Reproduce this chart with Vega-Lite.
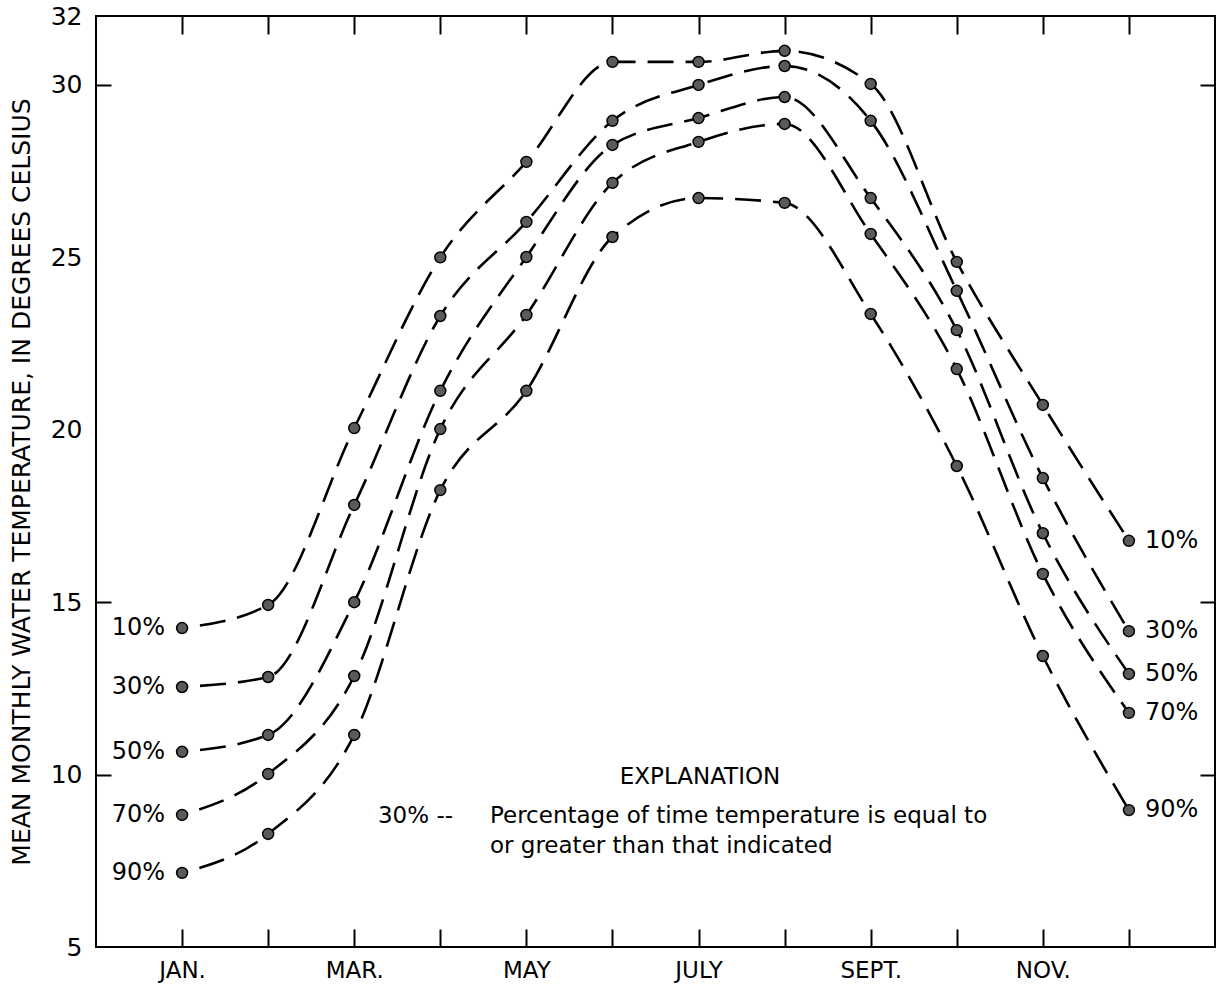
{
  "$schema": "https://vega.github.io/schema/vega-lite/v6.json",
  "width": 1119,
  "height": 931,
  "padding": {"left": 96, "top": 16, "right": 2, "bottom": 40},
  "autosize": {"type": "none"},
  "background": "white",
  "config": {
    "view": {"stroke": "black", "strokeWidth": 2},
    "font": "DejaVu Sans",
    "axis": {"grid": false, "domain": false, "tickColor": "black", "tickWidth": 2, "labelColor": "black", "labelFont": "DejaVu Sans", "titleFont": "DejaVu Sans", "titleFontWeight": "normal", "titleColor": "black"},
    "text": {"font": "DejaVu Sans", "color": "black"}
  },
  "datasets": {
    "temps": [
      {"month": 1, "pct": "10%", "temp": 14.25},
      {"month": 2, "pct": "10%", "temp": 14.92},
      {"month": 3, "pct": "10%", "temp": 20.05},
      {"month": 4, "pct": "10%", "temp": 25.0},
      {"month": 5, "pct": "10%", "temp": 27.77},
      {"month": 6, "pct": "10%", "temp": 30.67},
      {"month": 7, "pct": "10%", "temp": 30.67},
      {"month": 8, "pct": "10%", "temp": 30.99},
      {"month": 9, "pct": "10%", "temp": 30.03},
      {"month": 10, "pct": "10%", "temp": 24.87},
      {"month": 11, "pct": "10%", "temp": 20.72},
      {"month": 12, "pct": "10%", "temp": 16.78},
      {"month": 1, "pct": "30%", "temp": 12.54},
      {"month": 2, "pct": "30%", "temp": 12.83},
      {"month": 3, "pct": "30%", "temp": 17.82},
      {"month": 4, "pct": "30%", "temp": 23.3},
      {"month": 5, "pct": "30%", "temp": 26.03},
      {"month": 6, "pct": "30%", "temp": 28.96},
      {"month": 7, "pct": "30%", "temp": 30.0},
      {"month": 8, "pct": "30%", "temp": 30.55},
      {"month": 9, "pct": "30%", "temp": 28.96},
      {"month": 10, "pct": "30%", "temp": 24.03},
      {"month": 11, "pct": "30%", "temp": 18.6},
      {"month": 12, "pct": "30%", "temp": 14.16},
      {"month": 1, "pct": "50%", "temp": 10.66},
      {"month": 2, "pct": "50%", "temp": 11.15},
      {"month": 3, "pct": "50%", "temp": 15.0},
      {"month": 4, "pct": "50%", "temp": 21.13},
      {"month": 5, "pct": "50%", "temp": 25.01},
      {"month": 6, "pct": "50%", "temp": 28.26},
      {"month": 7, "pct": "50%", "temp": 29.04},
      {"month": 8, "pct": "50%", "temp": 29.65},
      {"month": 9, "pct": "50%", "temp": 26.72},
      {"month": 10, "pct": "50%", "temp": 22.89},
      {"month": 11, "pct": "50%", "temp": 17.0},
      {"month": 12, "pct": "50%", "temp": 12.92},
      {"month": 1, "pct": "70%", "temp": 8.83},
      {"month": 2, "pct": "70%", "temp": 10.02},
      {"month": 3, "pct": "70%", "temp": 12.86},
      {"month": 4, "pct": "70%", "temp": 20.02},
      {"month": 5, "pct": "70%", "temp": 23.33},
      {"month": 6, "pct": "70%", "temp": 27.16},
      {"month": 7, "pct": "70%", "temp": 28.35},
      {"month": 8, "pct": "70%", "temp": 28.87},
      {"month": 9, "pct": "70%", "temp": 25.68},
      {"month": 10, "pct": "70%", "temp": 21.76},
      {"month": 11, "pct": "70%", "temp": 15.82},
      {"month": 12, "pct": "70%", "temp": 11.79},
      {"month": 1, "pct": "90%", "temp": 7.15},
      {"month": 2, "pct": "90%", "temp": 8.28},
      {"month": 3, "pct": "90%", "temp": 11.15},
      {"month": 4, "pct": "90%", "temp": 18.25},
      {"month": 5, "pct": "90%", "temp": 21.13},
      {"month": 6, "pct": "90%", "temp": 25.59},
      {"month": 7, "pct": "90%", "temp": 26.72},
      {"month": 8, "pct": "90%", "temp": 26.58},
      {"month": 9, "pct": "90%", "temp": 23.36},
      {"month": 10, "pct": "90%", "temp": 18.95},
      {"month": 11, "pct": "90%", "temp": 13.44},
      {"month": 12, "pct": "90%", "temp": 8.97}
    ],
    "notes": [
      {"month": 3.276, "temp": 8.8, "text": "30% --"},
      {"month": 4.577, "temp": 8.8, "text": "Percentage of time temperature is equal to"},
      {"month": 4.577, "temp": 7.93, "text": "or greater than that indicated"}
    ],
    "heading": [
      {"month": 7.017, "temp": 9.93, "text": "EXPLANATION"}
    ]
  },
  "resolve": {"axis": {"x": "independent", "y": "independent"}},
  "layer": [
    {
      "data": {"name": "temps"},
      "mark": {"type": "line", "interpolate": "monotone", "color": "black", "strokeWidth": 2.6, "strokeDash": [26, 12], "strokeDashOffset": 20},
      "encoding": {
        "x": {
          "field": "month", "type": "quantitative",
          "scale": {"domain": [0, 13], "nice": false, "zero": false},
          "axis": {
            "orient": "bottom", "title": null, "values": [1, 2, 3, 4, 5, 6, 7, 8, 9, 10, 11, 12],
            "tickSize": -18, "labelPadding": 30, "labelFontSize": 23,
            "labelExpr": "datum.value == 1 ? 'JAN.' : datum.value == 3 ? 'MAR.' : datum.value == 5 ? 'MAY' : datum.value == 7 ? 'JULY' : datum.value == 9 ? 'SEPT.' : datum.value == 11 ? 'NOV.' : ''"
          }
        },
        "y": {
          "field": "temp", "type": "quantitative",
          "scale": {"domain": [5, 32], "nice": false, "zero": false},
          "axis": {
            "orient": "left", "values": [5, 10, 15, 20, 25, 30, 32],
            "tickSize": -15, "labelPadding": 29, "labelFontSize": 25,
            "tickOpacity": {"expr": "datum.value == 10 || datum.value == 15 || datum.value == 30 ? 1 : 0"},
            "title": "MEAN MONTHLY WATER TEMPERATURE, IN DEGREES CELSIUS",
            "titleFontSize": 25, "titlePadding": 16
          }
        },
        "detail": {"field": "pct"}
      }
    },
    {
      "data": {"name": "temps"},
      "mark": {"type": "point", "shape": "circle", "filled": true, "size": 120, "fill": "#5a5a5a", "stroke": "black", "strokeWidth": 1.5, "opacity": 1},
      "encoding": {
        "x": {
          "field": "month", "type": "quantitative",
          "scale": {"domain": [0, 13], "nice": false, "zero": false},
          "axis": {"orient": "top", "title": null, "labels": false, "values": [1, 2, 3, 4, 5, 6, 7, 8, 9, 10, 11, 12], "tickSize": -18}
        },
        "y": {
          "field": "temp", "type": "quantitative",
          "scale": {"domain": [5, 32], "nice": false, "zero": false},
          "axis": {"orient": "right", "title": null, "labels": false, "values": [10, 15, 30], "tickSize": -15}
        }
      }
    },
    {
      "data": {"name": "temps"},
      "transform": [{"filter": "datum.month == 1"}],
      "mark": {"type": "text", "align": "right", "baseline": "middle", "dx": -17, "fontSize": 24},
      "encoding": {
        "x": {"field": "month", "type": "quantitative", "scale": {"domain": [0, 13], "nice": false, "zero": false}, "axis": null},
        "y": {"field": "temp", "type": "quantitative", "scale": {"domain": [5, 32], "nice": false, "zero": false}, "axis": null},
        "text": {"field": "pct"}
      }
    },
    {
      "data": {"name": "temps"},
      "transform": [{"filter": "datum.month == 12"}],
      "mark": {"type": "text", "align": "left", "baseline": "middle", "dx": 16, "fontSize": 24},
      "encoding": {
        "x": {"field": "month", "type": "quantitative", "scale": {"domain": [0, 13], "nice": false, "zero": false}, "axis": null},
        "y": {"field": "temp", "type": "quantitative", "scale": {"domain": [5, 32], "nice": false, "zero": false}, "axis": null},
        "text": {"field": "pct"}
      }
    },
    {
      "data": {"name": "heading"},
      "mark": {"type": "text", "align": "center", "baseline": "middle", "fontSize": 23},
      "encoding": {
        "x": {"field": "month", "type": "quantitative", "scale": {"domain": [0, 13], "nice": false, "zero": false}, "axis": null},
        "y": {"field": "temp", "type": "quantitative", "scale": {"domain": [5, 32], "nice": false, "zero": false}, "axis": null},
        "text": {"field": "text"}
      }
    },
    {
      "data": {"name": "notes"},
      "mark": {"type": "text", "align": "left", "baseline": "middle", "fontSize": 23},
      "encoding": {
        "x": {"field": "month", "type": "quantitative", "scale": {"domain": [0, 13], "nice": false, "zero": false}, "axis": null},
        "y": {"field": "temp", "type": "quantitative", "scale": {"domain": [5, 32], "nice": false, "zero": false}, "axis": null},
        "text": {"field": "text"}
      }
    }
  ]
}
